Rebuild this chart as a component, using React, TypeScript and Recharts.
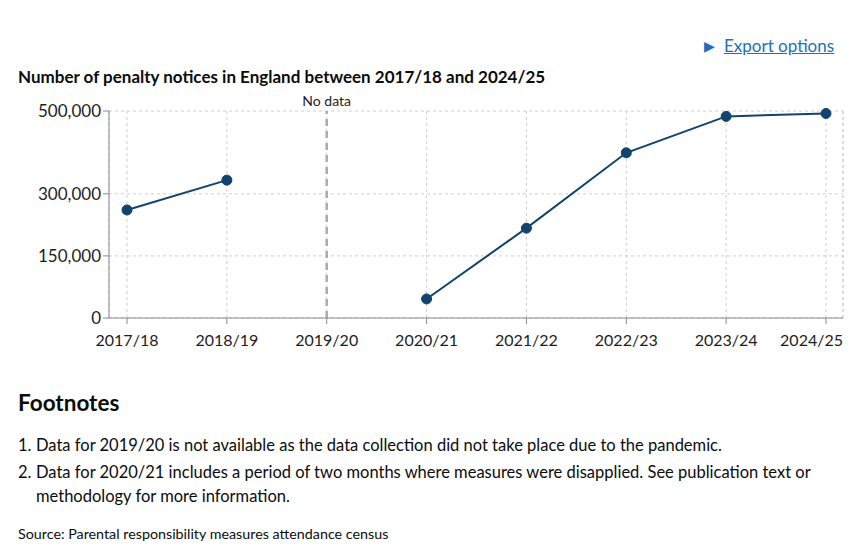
import React from 'react';
import {
  LineChart,
  Line,
  XAxis,
  YAxis,
  CartesianGrid,
  ReferenceLine,
} from 'recharts';

const years = ['2017/18', '2018/19', '2019/20', '2020/21', '2021/22', '2022/23', '2023/24', '2024/25'];
const notices: (number | null)[] = [261000, 333000, null, 46000, 217000, 399000, 487000, 494000];
const yTicks = [0, 150000, 300000, 500000];

const data = years.map((year, i) => ({ year, notices: notices[i] }));

const font = 'Lato, "Noto Sans", Arial, sans-serif';
const navy = '#12436d';
const tickColor = '#1d1d1d';

const fmt = (v: number) => v.toLocaleString('en-GB');

// last label is pulled inside the plot so it doesn't run off the edge
const YearTick = ({ x, y, payload, index }: any) => {
  const last = index === years.length - 1;
  return (
    <text
      x={last ? x + 17 : x}
      y={y + 20}
      textAnchor={last ? 'end' : 'middle'}
      fill={tickColor}
      fontSize={16}
      fontFamily={font}
    >
      {payload.value}
    </text>
  );
};

export default function App() {
  return (
    <div
      style={{
        position: 'absolute',
        top: 0,
        left: 0,
        width: 862,
        height: 551,
        background: '#fff',
        fontFamily: font,
        color: '#0b0c0c',
        overflow: 'hidden',
      }}
    >
      <div style={{ position: 'absolute', left: 704, top: 35, fontSize: 17, color: '#1d70b8' }}>
        <span style={{ fontSize: 14, marginRight: 9, position: 'relative', top: -1 }}>▶</span>
        <span style={{ textDecoration: 'underline' }}>Export options</span>
      </div>

      <div style={{ position: 'absolute', left: 18, top: 66, fontSize: 17, fontWeight: 700 }}>
        Number of penalty notices in England between 2017/18 and 2024/25
      </div>

      <div style={{ position: 'absolute', left: 0, top: 0 }}>
        <LineChart
          width={862}
          height={352}
          data={data}
          margin={{ top: 111, right: 19, bottom: 0, left: 0 }}
        >
          <CartesianGrid stroke="#cfcfcf" strokeDasharray="3 3" />
          {/* right-hand border of the grid */}
          <CartesianGrid
            stroke="#cfcfcf"
            strokeDasharray="3 3"
            horizontal={false}
            verticalCoordinatesGenerator={({ offset }: any) => [offset.left + offset.width]}
          />
          <XAxis
            dataKey="year"
            padding={{ left: 18, right: 17 }}
            tick={<YearTick />}
            tickLine={{ stroke: '#8a8a8a' }}
            axisLine={{ stroke: '#8a8a8a' }}
            tickSize={6}
            height={34}
            interval={0}
          />
          <YAxis
            width={109}
            domain={[0, 500000]}
            ticks={yTicks}
            tickFormatter={fmt}
            tick={{ fill: tickColor, fontSize: 17, fontFamily: font }}
            tickLine={{ stroke: '#8a8a8a' }}
            axisLine={{ stroke: '#8a8a8a' }}
            tickSize={6}
          />
          <ReferenceLine
            x="2019/20"
            stroke="#a9abad"
            strokeWidth={2.5}
            strokeDasharray="7 5"
            label={{ value: 'No data', position: 'top', fill: tickColor, fontSize: 14, fontFamily: font }}
          />
          <Line
            type="linear"
            dataKey="notices"
            stroke={navy}
            strokeWidth={2}
            dot={{ r: 5, fill: navy, stroke: navy, strokeWidth: 1 }}
            connectNulls={false}
            isAnimationActive={false}
          />
        </LineChart>
      </div>

      <div style={{ position: 'absolute', left: 18, top: 389, fontSize: 22.5, fontWeight: 700 }}>
        Footnotes
      </div>

      <div style={{ position: 'absolute', left: 18, top: 433, width: 820, fontSize: 16.5, lineHeight: '24px' }}>
        <div style={{ display: 'flex' }}>
          <span style={{ width: 18 }}>1.</span>
          <span style={{ flex: 1 }}>
            Data for 2019/20 is not available as the data collection did not take place due to the pandemic.
          </span>
        </div>
        <div style={{ display: 'flex', marginTop: 3 }}>
          <span style={{ width: 18 }}>2.</span>
          <span style={{ flex: 1 }}>
            Data for 2020/21 includes a period of two months where measures were disapplied. See publication text or
            methodology for more information.
          </span>
        </div>
      </div>

      <div style={{ position: 'absolute', left: 18, top: 525, fontSize: 14.3 }}>
        Source: Parental responsibility measures attendance census
      </div>
    </div>
  );
}
